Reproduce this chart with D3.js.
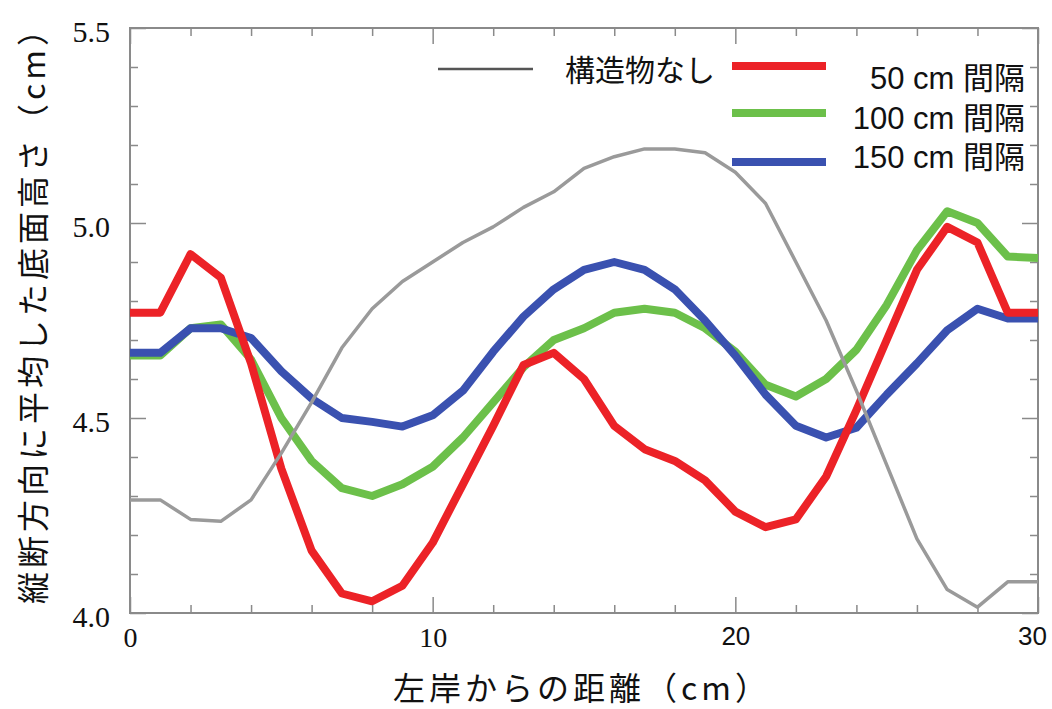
<!DOCTYPE html>
<html>
<head>
<meta charset="utf-8">
<script src="https://cdn.jsdelivr.net/npm/d3@7"></script>
<style>
body { margin: 0; background: #fff; }
svg { display: block; }
</style>
</head>
<body>
<svg id="chart" width="1052" height="709"></svg>
<script>
// distance from left bank (cm)
var distance = [0,1,2,3,4,5,6,7,8,9,10,11,12,13,14,15,16,17,18,19,20,21,22,23,24,25,26,27,28,29,30];

var noStructure = [4.29,4.29,4.24,4.235,4.29,4.41,4.54,4.68,4.78,4.85,4.90,4.95,4.99,5.04,5.08,5.14,5.17,5.19,5.19,5.18,5.13,5.05,4.90,4.75,4.57,4.38,4.19,4.06,4.015,4.08,4.08];
var gap50 = [4.77,4.77,4.92,4.86,4.64,4.37,4.16,4.05,4.03,4.07,4.18,4.33,4.48,4.636,4.667,4.60,4.48,4.42,4.39,4.34,4.26,4.22,4.24,4.35,4.52,4.70,4.88,4.99,4.95,4.77,4.77];
var gap100 = [4.66,4.66,4.73,4.74,4.65,4.50,4.39,4.32,4.30,4.33,4.375,4.45,4.54,4.63,4.70,4.73,4.77,4.78,4.77,4.73,4.67,4.585,4.555,4.60,4.675,4.79,4.93,5.03,5.00,4.914,4.91];
var gap150 = [4.667,4.667,4.73,4.73,4.705,4.62,4.55,4.50,4.49,4.478,4.507,4.57,4.67,4.76,4.83,4.88,4.90,4.88,4.83,4.75,4.66,4.56,4.48,4.45,4.475,4.56,4.64,4.725,4.78,4.755,4.755];

var legendLabels = ['構造物なし', '50 cm 間隔', '100 cm 間隔', '150 cm 間隔'];
var xMajor = [0,10,20,30];
var xMinor = [2,4,6,8,12,14,16,18,22,24,26,28];
var yMajor = [4.0,4.5,5.0,5.5];
var yMinor = [4.1,4.2,4.3,4.4,4.6,4.7,4.8,4.9,5.1,5.2,5.3,5.4];

var plotLeft = 130, plotRight = 1038, plotTop = 28, plotBottom = 613;
var axisColor = '#8a8a8a';

var svg = d3.select('#chart');

var x = d3.scaleLinear().domain([0,30]).range([plotLeft,plotRight]);
var y = d3.scaleLinear().domain([4.0,5.5]).range([plotBottom,plotTop]);

// frame
svg.append('rect')
	.attr('x', plotLeft).attr('y', plotTop)
	.attr('width', plotRight-plotLeft).attr('height', plotBottom-plotTop)
	.attr('fill', 'none')
	.attr('stroke', axisColor)
	.attr('stroke-width', 2);

function drawAxis(axis, tx, ty){
	var g = svg.append('g')
		.attr('transform', 'translate(' + tx + ',' + ty + ')')
		.call(axis);
	g.select('.domain').remove();
	g.selectAll('line').attr('stroke', axisColor).attr('stroke-width', 1.5);
	return g;
}

// inward ticks on all four sides
drawAxis(d3.axisBottom(x).tickValues(xMinor).tickSize(-8).tickFormat(''), 0, plotBottom);
drawAxis(d3.axisTop(x).tickValues(xMinor).tickSize(-8).tickFormat(''), 0, plotTop);
drawAxis(d3.axisTop(x).tickValues(xMajor).tickSize(-16).tickFormat(''), 0, plotTop);
drawAxis(d3.axisLeft(y).tickValues(yMinor).tickSize(-8).tickFormat(''), plotLeft, 0);
drawAxis(d3.axisRight(y).tickValues(yMinor).tickSize(-8).tickFormat(''), plotRight, 0);
drawAxis(d3.axisRight(y).tickValues(yMajor).tickSize(-16).tickFormat(''), plotRight, 0);

var xa = drawAxis(d3.axisBottom(x).tickValues(xMajor).tickSize(-16).tickPadding(14).tickFormat(d3.format('d')), 0, plotBottom);
xa.selectAll('text')
	.attr('fill', '#111')
	.attr('dx', function(d){ return d == 30 ? -6 : 0; })
	.style('font-size', function(d){ return d < 20 ? '28px' : '26px'; })
	.style('font-family', function(d){ return d < 20 ? '"Liberation Serif", serif' : '"Liberation Sans", sans-serif'; });

var ya = drawAxis(d3.axisLeft(y).tickValues(yMajor).tickSize(-16).tickPadding(20).tickFormat(d3.format('.1f')), plotLeft, 0);
ya.selectAll('text')
	.attr('fill', '#111')
	.attr('dy', '0.45em')
	.style('font-size', '30px')
	.style('font-family', '"Liberation Serif", serif');

// lines
var line = d3.line()
	.x(function(d, i){ return x(distance[i]); })
	.y(function(d){ return y(d); });

var series = [
	{ values: gap100, color: '#6cc04a', width: 8 },
	{ values: gap150, color: '#3a51b0', width: 8 },
	{ values: gap50, color: '#ec2227', width: 8 },
	{ values: noStructure, color: '#9a9a9a', width: 3.5 }
];

svg.selectAll('path.series')
	.data(series)
	.enter()
	.append('path')
	.attr('class', 'series')
	.attr('d', function(d){ return line(d.values); })
	.attr('fill', 'none')
	.attr('stroke', function(d){ return d.color; })
	.attr('stroke-width', function(d){ return d.width; })
	.attr('stroke-linejoin', 'round');

// legend
var legend = svg.append('g').attr('fill', '#111');
legend.append('line')
	.attr('x1', 438).attr('x2', 533).attr('y1', 69).attr('y2', 69)
	.attr('stroke', '#555').attr('stroke-width', 2.5);
legend.append('text')
	.attr('x', 565).attr('y', 81)
	.style('font-family', '"Noto Sans CJK JP", sans-serif')
	.style('font-size', '30px')
	.text(legendLabels[0]);

var legendRows = [
	{ color: '#ec2227', ly: 66, ty: 89 },
	{ color: '#6cc04a', ly: 113, ty: 129 },
	{ color: '#3a51b0', ly: 162, ty: 168 }
];
legendRows.forEach(function(r, i){
	legend.append('line')
		.attr('x1', 732).attr('x2', 826).attr('y1', r.ly).attr('y2', r.ly)
		.attr('stroke', r.color).attr('stroke-width', 8);
	legend.append('text')
		.attr('x', 1025).attr('y', r.ty)
		.attr('text-anchor', 'end')
		.style('font-family', '"Liberation Sans", "Noto Sans CJK JP", sans-serif')
		.style('font-size', '31px')
		.text(legendLabels[i+1]);
});

// axis titles
svg.append('text')
	.attr('x', 582).attr('y', 700)
	.attr('text-anchor', 'middle')
	.style('font-family', '"Noto Sans CJK JP", sans-serif')
	.style('font-size', '32px')
	.style('letter-spacing', '4px')
	.attr('fill', '#111')
	.text('左岸からの距離（cm）');

svg.append('text')
	.attr('transform', 'translate(45,307) rotate(-90)')
	.attr('text-anchor', 'middle')
	.style('font-family', '"Noto Sans CJK JP", sans-serif')
	.style('font-size', '32px')
	.style('letter-spacing', '4px')
	.attr('fill', '#111')
	.text('縦断方向に平均した底面高さ（cm）');
</script>
</body>
</html>
